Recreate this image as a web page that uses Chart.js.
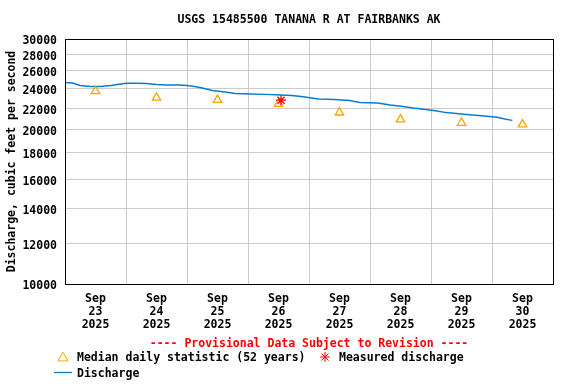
<!DOCTYPE html>
<html>
<head>
<meta charset="utf-8">
<script src="https://cdn.jsdelivr.net/npm/chart.js@4/dist/chart.umd.min.js"></script>
<style>
html,body{margin:0;padding:0;background:#fff;}
#wrap{width:576px;height:384px;position:relative;}
</style>
</head>
<body>
<div id="wrap"><canvas id="c" width="576" height="384"></canvas></div>
<script>
// ---- data (hours since Sep 23 2025 00:00) ----
const dischargeHours = [0,3,6,10,14,18,22,24,28,32,36,40,45,48,51,54,58,63,67,73,79,85,89,93,97,100,106,112,116,123,128,133,137,142,145,150,154,158,165,170,173,176];
const dischargeValues = [24690,24630,24350,24250,24250,24350,24520,24600,24600,24580,24460,24410,24410,24350,24250,24080,23820,23650,23490,23440,23400,23340,23280,23180,23030,22930,22870,22770,22570,22520,22320,22170,22020,21870,21770,21570,21480,21380,21240,21120,20960,20830];
const medianHours = [12,36,60,84,108,132,156,180];
const medianValues = [23740,23060,22820,22420,21570,20910,20600,20450];
const measuredHours = [85];
const measuredValues = [22800];
const dayLabels = ['23','24','25','26','27','28','29','30'];
const monthLabel = 'Sep';
const yearLabel = '2025';
const yTicks = [10000,12000,14000,16000,18000,20000,22000,24000,26000,28000,30000];

const FONT = "'DejaVu Sans Mono', monospace";
const fnt = {family: FONT, size: 11.5, weight: 'bold', lineHeight: 1.13};
const fntX = {family: FONT, size: 11.5, weight: 'bold', lineHeight: 1.16};

const BLUE = '#0a7bd0', ORANGE = '#ffa500', RED = '#ff0000';

const extras = {
  id: 'extras',
  afterDraw(chart) {
    const ctx = chart.ctx, a = chart.chartArea;
    ctx.save();
    // plot box
    ctx.strokeStyle = '#000'; ctx.lineWidth = 1;
    ctx.strokeRect(Math.round(a.left) + 0.5, Math.round(a.top) + 0.5, Math.round(a.right - a.left), Math.round(a.bottom - a.top));
    ctx.font = "bold 11.5px " + FONT;
    ctx.textBaseline = 'middle';
    // title
    ctx.fillStyle = '#000'; ctx.textAlign = 'center';
    ctx.fillText('USGS 15485500 TANANA R AT FAIRBANKS AK', (a.left + a.right) / 2, 20);
    // provisional
    ctx.fillStyle = RED;
    ctx.fillText('---- Provisional Data Subject to Revision ----', (a.left + a.right) / 2, 344);
    // legend
    ctx.textAlign = 'left';
    ctx.strokeStyle = ORANGE; ctx.fillStyle = 'rgba(0,0,0,0)';
    Chart.helpers.drawPoint(ctx, {pointStyle: 'triangle', radius: 5.8, borderWidth: 1.3, rotation: 0}, 63, 358);
    ctx.strokeStyle = RED; ctx.fillStyle = RED;
    Chart.helpers.drawPoint(ctx, {pointStyle: 'star', radius: 5, borderWidth: 1.3, rotation: 0}, 325, 357);
    ctx.fillStyle = '#000';
    ctx.fillText('Median daily statistic (52 years)', 77, 358);
    ctx.fillText('Measured discharge', 339, 358);
    ctx.strokeStyle = BLUE; ctx.lineWidth = 1.3;
    ctx.beginPath(); ctx.moveTo(54, 372.5); ctx.lineTo(72, 372.5); ctx.stroke();
    ctx.fillText('Discharge', 77, 374);
    ctx.restore();
  }
};

new Chart(document.getElementById('c'), {
  type: 'line',
  data: {
    datasets: [
      {
        label: 'Discharge',
        data: dischargeHours.map((h, i) => ({x: h, y: dischargeValues[i]})),
        borderColor: BLUE, borderWidth: 1.4, pointRadius: 0, tension: 0, fill: false, order: 3
      },
      {
        label: 'Median daily statistic (52 years)',
        data: medianHours.map((h, i) => ({x: h, y: medianValues[i]})),
        showLine: false, pointStyle: 'triangle', pointRadius: 4.9,
        pointBorderColor: ORANGE, pointBackgroundColor: 'rgba(0,0,0,0)', pointBorderWidth: 1.3, order: 2
      },
      {
        label: 'Measured discharge',
        data: measuredHours.map((h, i) => ({x: h, y: measuredValues[i]})),
        showLine: false, pointStyle: 'star', pointRadius: 5,
        pointBorderColor: RED, pointBackgroundColor: RED, pointBorderWidth: 1.3, order: 1
      }
    ]
  },
  options: {
    responsive: false, animation: false,
    layout: {padding: {top: 39, right: 23, left: 0, bottom: 0}},
    plugins: {legend: {display: false}, title: {display: false}, tooltip: {enabled: false}},
    scales: {
      x: {
        type: 'linear', min: 0, max: 192,
        afterBuildTicks(s) {
          const t = [];
          for (let h = 0; h <= 192; h += 12) t.push({value: h});
          s.ticks = t;
        },
        afterFit(s) { s.height = 100; },
        border: {display: false},
        grid: {
          drawTicks: false,
          color: c => (c.tick && c.tick.value % 24 === 0) ? '#cccccc' : 'rgba(0,0,0,0)',
          lineWidth: 1
        },
        ticks: {
          autoSkip: false, maxRotation: 0, padding: 8, color: '#000', font: fntX,
          callback: v => (v % 24 === 12) ? [monthLabel, dayLabels[(v - 12) / 24], yearLabel] : ''
        }
      },
      y: {
        type: 'logarithmic', min: 10000, max: 30000,
        afterBuildTicks(s) { s.ticks = yTicks.map(v => ({value: v})); },
        afterFit(s) { s.width = 65; },
        border: {display: false},
        grid: {drawTicks: false, color: '#cccccc', lineWidth: 1},
        ticks: {padding: 8, labelOffset: 2.5, color: '#000', font: fnt, callback: v => String(v)},
        title: {display: true, text: 'Discharge, cubic feet per second', color: '#000', font: fnt, padding: {top: 6, bottom: 0}}
      }
    }
  },
  plugins: [extras]
});
</script>
</body>
</html>
